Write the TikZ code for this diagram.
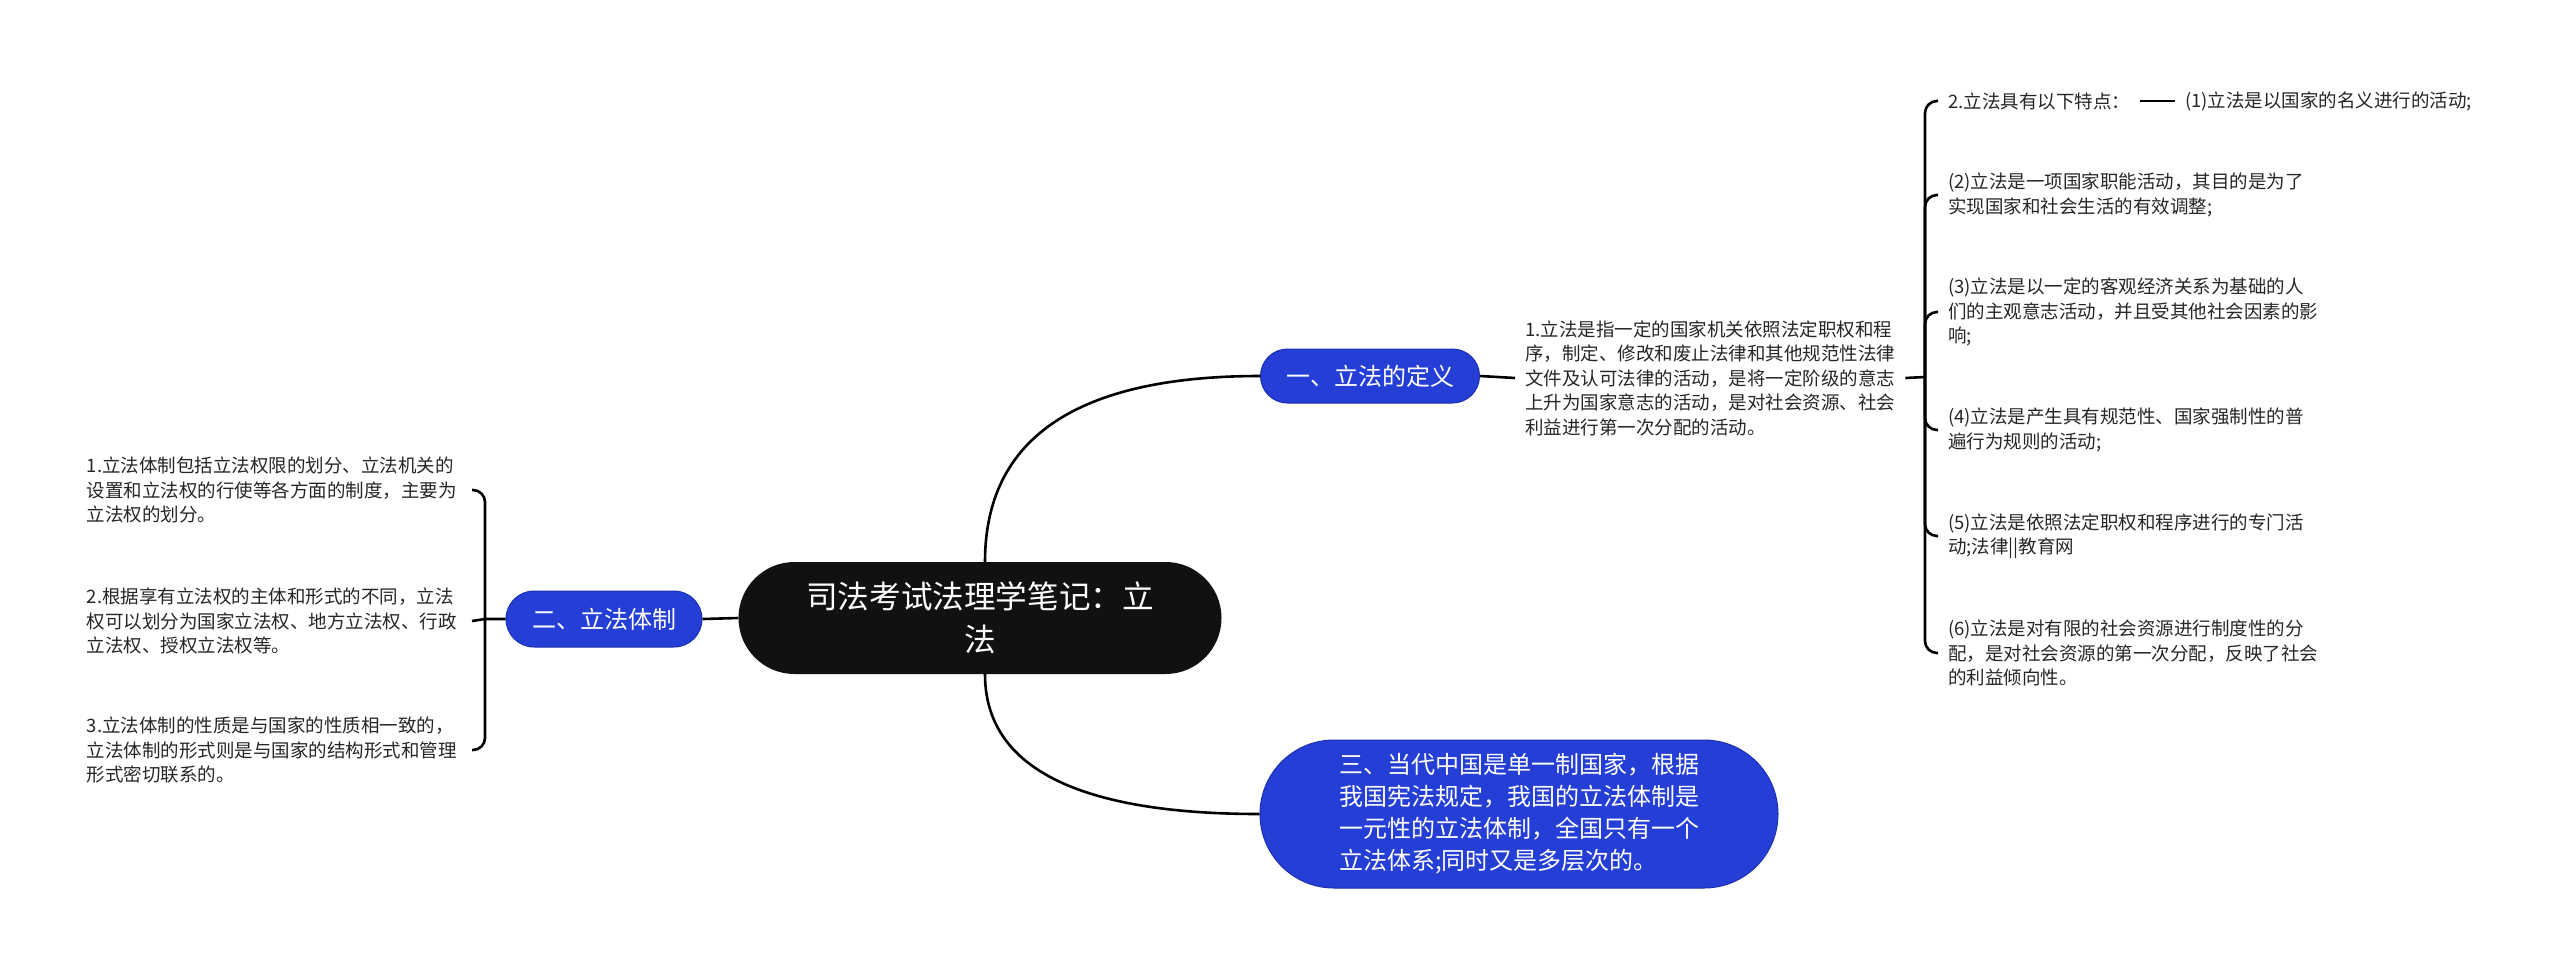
\documentclass[tikz,border=0pt]{standalone}
\usepackage{fontspec}
\setmainfont{Noto Sans CJK SC}
\definecolor{nblue}{RGB}{36,62,214}
\definecolor{nblueline}{RGB}{28,48,175}
\definecolor{nblack}{RGB}{17,17,17}
\definecolor{tgray}{RGB}{38,38,38}
\begin{document}
\begin{tikzpicture}[x=1pt,y=-1pt,
  conn/.style={draw=black, line width=2.6pt},
  root/.style={fill=nblack, text=white, rounded corners=56pt, minimum width=483pt, minimum height=112pt, align=center, font=\fontsize{31.6}{43}\selectfont, inner sep=0pt},
  topic/.style={fill=nblue, draw=nblueline, line width=1pt, text=white, font=\fontsize{24}{32}\selectfont, inner sep=0pt},
  leaf/.style={align=left, font=\fontsize{18.5}{24.5}\selectfont, inner xsep=10pt, inner ysep=0pt, text=tgray}]
\useasboundingbox (0,0) rectangle (2560,970);
\fill[white] (0,0) rectangle (2560,970);

\node[root] (root) at (980,618) {司法考试法理学笔记：立\\法};

\node[topic, minimum width=219pt, minimum height=54pt, rounded corners=27pt] (t1) at (1370,376) {一、立法的定义};
\node[topic, minimum width=196pt, minimum height=56pt, rounded corners=28pt] (t2) at (604,619) {二、立法体制};
\node[topic, minimum width=518pt, minimum height=148pt, rounded corners=74pt, align=left] (t3) at (1519,814) {三、当代中国是单一制国家，根据\\我国宪法规定，我国的立法体制是\\一元性的立法体制，全国只有一个\\立法体系;同时又是多层次的。};

\node[leaf, anchor=west] (d1) at (1515,378) {1.立法是指一定的国家机关依照法定职权和程\\序，制定、修改和废止法律和其他规范性法律\\文件及认可法律的活动，是将一定阶级的意志\\上升为国家意志的活动，是对社会资源、社会\\利益进行第一次分配的活动。};

\coordinate (rj) at (1925,377);
\node[leaf, anchor=west] (c0) at (1938,101) {2.立法具有以下特点：};
\node[leaf, anchor=west] (c1) at (2175,101) {(1)立法是以国家的名义进行的活动;};
\node[leaf, anchor=west] (c2) at (1938,195) {(2)立法是一项国家职能活动，其目的是为了\\实现国家和社会生活的有效调整;};
\node[leaf, anchor=west] (c3) at (1938,312) {(3)立法是以一定的客观经济关系为基础的人\\们的主观意志活动，并且受其他社会因素的影\\响;};
\node[leaf, anchor=west] (c4) at (1938,430) {(4)立法是产生具有规范性、国家强制性的普\\遍行为规则的活动;};
\node[leaf, anchor=west] (c5) at (1938,536) {(5)立法是依照法定职权和程序进行的专门活\\动;法律||教育网};
\node[leaf, anchor=west] (c6) at (1938,653) {(6)立法是对有限的社会资源进行制度性的分\\配，是对社会资源的第一次分配，反映了社会\\的利益倾向性。};

\coordinate (lj) at (485,619);
\node[leaf, anchor=east, text width=375pt] (l1) at (472,490) {1.立法体制包括立法权限的划分、立法机关的\\设置和立法权的行使等各方面的制度，主要为\\立法权的划分。};
\node[leaf, anchor=east, text width=375pt] (l2) at (472,621) {2.根据享有立法权的主体和形式的不同，立法\\权可以划分为国家立法权、地方立法权、行政\\立法权、授权立法权等。};
\node[leaf, anchor=east, text width=375pt] (l3) at (472,750) {3.立法体制的性质是与国家的性质相一致的，\\立法体制的形式则是与国家的结构形式和管理\\形式密切联系的。};

\draw[conn] ([xshift=5pt]root.north) .. controls (985,438) and (1077,376) .. (t1.west);
\draw[conn] ([xshift=5pt]root.south) .. controls (985,767) and (1077,814) .. (t3.west);
\draw[conn] (root.west) -- (t2.east);
\draw[conn] (t1.east) -- (d1.west);
\draw[conn] (d1.east) -- (rj);
\foreach \n in {c0,c2,c3,c4,c5,c6} \draw[conn, rounded corners=12pt] (rj) |- (\n.west);
\draw[conn] (c0.east) -- (c1.west);
\draw[conn] (t2.west) -- (lj) -- (l2.east);
\draw[conn, rounded corners=12pt] (lj) |- (l1.east);
\draw[conn, rounded corners=12pt] (lj) |- (l3.east);
\end{tikzpicture}
\end{document}
